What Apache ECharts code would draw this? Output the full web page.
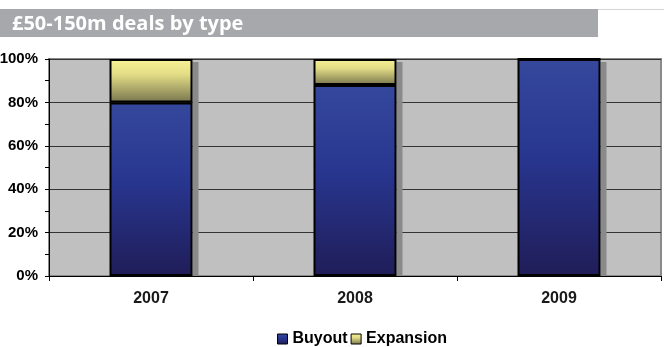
<!DOCTYPE html>
<html>
<head>
<meta charset="utf-8">
<script src="https://cdn.jsdelivr.net/npm/echarts@6/dist/echarts.min.js"></script>
<style>
  html, body { margin: 0; padding: 0; background: #ffffff; }
  #chart { width: 664px; height: 347px; }
</style>
</head>
<body>
<div id="chart"></div>
<script>
// £50-150m deals split by type, share of deals per year (%)
const years = ['2007', '2008', '2009'];
const buyout = [80, 88, 100];
const expansion = [20, 12, 0];
const seriesNames = ['Buyout', 'Expansion'];
const titleText = '£50-150m deals by type';

const labelFont = "'Liberation Sans', Arial, sans-serif";
const BAR_W = 83;

const blueFill = new echarts.graphic.LinearGradient(0, 0, 0, 1, [
  { offset: 0, color: '#35489c' },
  { offset: 0.45, color: '#28368f' },
  { offset: 1, color: '#201d58' }
]);
const yellowFill = new echarts.graphic.LinearGradient(0, 0, 0, 1, [
  { offset: 0, color: '#f7f295' },
  { offset: 0.35, color: '#e3de86' },
  { offset: 1, color: '#78754e' }
]);

// totals per year, used for the drop shadow behind each stacked column
const totals = years.map((y, i) => buyout[i] + expansion[i]);

const chart = echarts.init(document.getElementById('chart'), null, { renderer: 'canvas' });

chart.setOption({
  animation: false,
  backgroundColor: '#ffffff',
  graphic: [
    {
      type: 'rect',
      shape: { x: 0, y: 9, width: 598, height: 28 },
      style: { fill: '#a7a8ab' },
      silent: true
    },
    {
      type: 'rect',
      shape: { x: 598, y: 9, width: 66, height: 1 },
      style: { fill: '#d4d4d6' },
      silent: true
    },
    {
      type: 'text',
      left: 12,
      top: 14,
      style: {
        text: titleText,
        fill: '#ffffff',
        font: "bold 20px 'Open Sans', Lato, sans-serif"
      },
      silent: true
    }
  ],
  grid: {
    left: 49,
    right: 3,
    top: 59,
    bottom: 71,
    outerBoundsMode: 'none',
    containLabel: false,
    show: true,
    backgroundColor: '#c0c0c0',
    borderColor: '#8a8a8a',
    borderWidth: 2
  },
  legend: {
    data: seriesNames,
    top: 331,
    left: 277,
    padding: 0,
    itemWidth: 10,
    itemHeight: 10,
    itemGap: 3,
    icon: 'rect',
    textStyle: {
      fontFamily: labelFont,
      fontWeight: 'bold',
      fontSize: 16,
      color: '#000000'
    },
    itemStyle: { borderColor: '#000000', borderWidth: 1 }
  },
  xAxis: {
    type: 'category',
    data: years,
    axisLine: { lineStyle: { color: '#000000', width: 1 } },
    axisTick: { show: true, length: 5, lineStyle: { color: '#000000' } },
    axisLabel: {
      margin: 15,
      fontFamily: labelFont,
      fontWeight: 'bold',
      fontSize: 16,
      color: '#1a1a1a'
    },
    splitLine: { show: false }
  },
  yAxis: {
    type: 'value',
    min: 0,
    max: 100,
    interval: 20,
    axisLine: { show: true, lineStyle: { color: '#000000', width: 1 } },
    axisTick: { show: true, length: 4, lineStyle: { color: '#000000' } },
    minorTick: { show: true, splitNumber: 2, length: 4, lineStyle: { color: '#000000' } },
    axisLabel: {
      margin: 11,
      formatter: '{value}%',
      fontFamily: labelFont,
      fontWeight: 'bold',
      fontSize: 15,
      color: '#000000'
    },
    splitLine: { show: true, lineStyle: { color: '#333333', width: 1 } }
  },
  series: [
    {
      // grey drop shadow on the right side of each column
      name: 'shadow',
      type: 'custom',
      data: totals.map((t, i) => [i, t]),
      z: 1,
      silent: true,
      renderItem: function (params, api) {
        const top = api.coord([api.value(0), api.value(1)]);
        const base = api.coord([api.value(0), 0]);
        const right = top[0] + BAR_W / 2;
        return {
          type: 'rect',
          shape: { x: right, y: top[1] + 3, width: 6, height: base[1] - top[1] - 3 },
          style: { fill: '#8a8a8a' }
        };
      }
    },
    {
      name: seriesNames[0],
      type: 'bar',
      stack: 'deals',
      data: buyout,
      barWidth: BAR_W,
      z: 3,
      itemStyle: {
        color: blueFill,
        borderColor: '#000000',
        borderWidth: 2
      }
    },
    {
      name: seriesNames[1],
      type: 'bar',
      stack: 'deals',
      data: expansion,
      barWidth: BAR_W,
      z: 2,
      itemStyle: {
        color: yellowFill,
        borderColor: '#000000',
        borderWidth: 2
      }
    }
  ]
});
</script>
</body>
</html>
